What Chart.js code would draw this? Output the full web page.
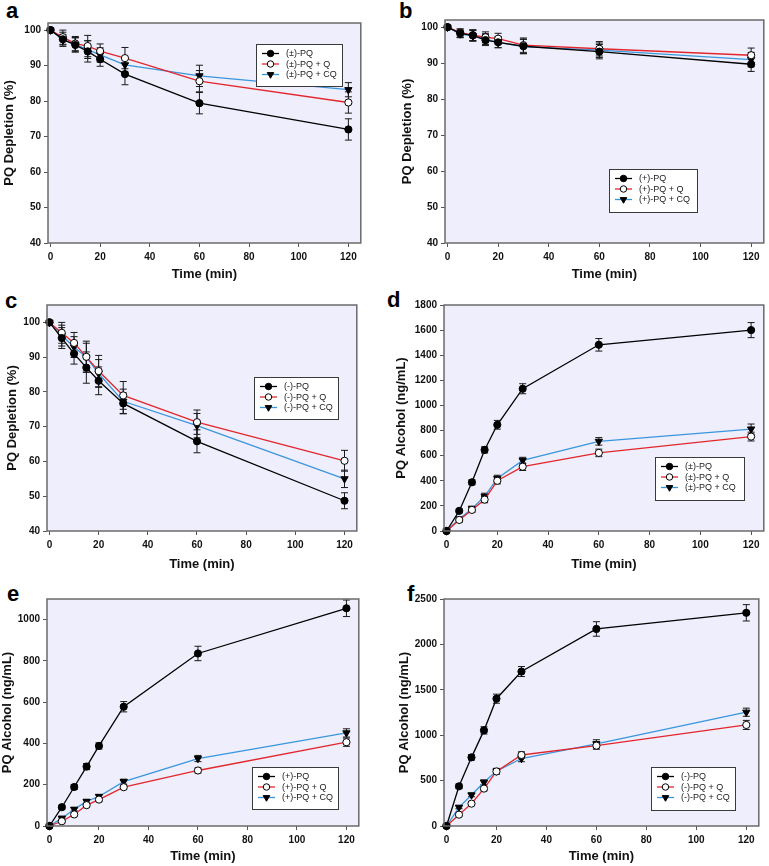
<!DOCTYPE html>
<html>
  <head>
    <title>PQ Depletion and PQ Alcohol</title>
    <style>
      body { margin: 0; background: #fff; width: 769px; height: 866px; position: relative; overflow: hidden; }
      canvas { position: absolute; }
      .tag { position: absolute; font: bold 22px "Liberation Sans", Arial, sans-serif; line-height: 22px; color: #000; }
    </style>
  </head>
  <body>
    <div class="tag" style="left:6px;top:0px">a</div>
    <div class="tag" style="left:399px;top:0px">b</div>
    <div class="tag" style="left:5px;top:290px">c</div>
    <div class="tag" style="left:387px;top:289px">d</div>
    <div class="tag" style="left:7px;top:583px">e</div>
    <div class="tag" style="left:407px;top:583px">f</div>

    <canvas id="chartA"></canvas>
    <canvas id="chartB"></canvas>
    <canvas id="chartC"></canvas>
    <canvas id="chartD"></canvas>
    <canvas id="chartE"></canvas>
    <canvas id="chartF"></canvas>

    <script src="https://cdn.jsdelivr.net/npm/chart.js"></script>
    <script>
      // sampling times (min)
      const times = [0, 5, 10, 15, 20, 30, 60, 120];
      const xTicks = [0, 20, 40, 60, 80, 100, 120];

      const racemicNames = ["(±)-PQ", "(±)-PQ + Q", "(±)-PQ + CQ"];
      const plusNames = ["(+)-PQ", "(+)-PQ + Q", "(+)-PQ + CQ"];
      const minusNames = ["(-)-PQ", "(-)-PQ + Q", "(-)-PQ + CQ"];

      // a: (±)-PQ depletion (%)
      const aPQ = [100, 97.4, 95.8, 94.0, 91.8, 87.6, 79.4, 72.0];
      const aPQErr = [0, 2, 2, 3, 2, 3, 3, 3];
      const aQ = [100, 98.0, 96.2, 95.5, 94.1, 92.1, 85.6, 79.6];
      const aQErr = [0, 2, 2, 3, 2, 3, 3, 3];
      const aCQ = [100, 97.3, 95.9, 94.5, 93.0, 90.2, 87.1, 83.2];
      const aCQErr = [0, 1.5, 2, 2.5, 2, 2, 3, 2];

      // b: (+)-PQ depletion (%)
      const bPQ = [100, 98.3, 97.7, 96.4, 95.8, 94.7, 93.2, 89.7];
      const bPQErr = [0, 1.2, 1.5, 1.5, 1.5, 2, 2, 2];
      const bQ = [100, 98.5, 97.8, 97.2, 96.8, 95.0, 94.0, 92.2];
      const bQErr = [0, 1, 1.5, 1.5, 1.5, 2, 2, 2];
      const bCQ = [100, 98.1, 97.6, 96.7, 95.8, 94.6, 93.6, 91.0];
      const bCQErr = [0, 1, 1.5, 1.5, 1.5, 2, 2, 2];

      // c: (-)-PQ depletion (%)
      const cPQ = [100, 95.5, 91.0, 87.0, 83.2, 76.7, 65.8, 48.7];
      const cPQErr = [0, 3, 3, 4.5, 4, 3, 3.3, 2.3];
      const cQ = [100, 97.0, 94.1, 90.1, 86.0, 79.0, 71.3, 60.2];
      const cQErr = [0, 3, 3, 4.5, 4.5, 4, 3.5, 3];
      const cCQ = [100, 96.2, 92.9, 90.0, 85.3, 77.3, 70.3, 55.0];
      const cCQErr = [0, 3, 3, 4, 4, 3.5, 3.5, 2.5];

      // d: (±)-PQ alcohol (ng/mL)
      const dPQ = [0, 160, 388, 646, 846, 1133, 1483, 1600];
      const dPQErr = [0, 15, 20, 25, 35, 40, 50, 60];
      const dQ = [0, 88, 168, 250, 400, 512, 622, 752];
      const dQErr = [0, 20, 20, 25, 25, 30, 30, 35];
      const dCQ = [0, 95, 178, 276, 419, 562, 714, 812];
      const dCQErr = [0, 15, 20, 25, 25, 25, 30, 40];

      // e: (+)-PQ alcohol (ng/mL)
      const ePQ = [0, 91, 189, 288, 388, 578, 836, 1055];
      const ePQErr = [0, 10, 12, 15, 15, 25, 35, 40];
      const eQ = [0, 23, 56, 101, 128, 188, 269, 406];
      const eQErr = [0, 5, 8, 10, 10, 10, 12, 20];
      const eCQ = [0, 38, 81, 119, 143, 215, 327, 451];
      const eCQErr = [0, 5, 8, 10, 10, 12, 15, 20];

      // f: (-)-PQ alcohol (ng/mL)
      const fPQ = [0, 437, 756, 1053, 1402, 1701, 2170, 2348];
      const fPQErr = [0, 25, 30, 40, 50, 55, 80, 90];
      const fQ = [0, 125, 246, 412, 601, 782, 885, 1113];
      const fQErr = [0, 15, 20, 25, 30, 35, 40, 50];
      const fCQ = [0, 206, 342, 482, 605, 743, 905, 1253];
      const fCQErr = [0, 15, 20, 25, 30, 35, 45, 45];

      const depletionTicks = [40, 50, 60, 70, 80, 90, 100];
      const dTicks = [0, 200, 400, 600, 800, 1000, 1200, 1400, 1600, 1800];
      const eTicks = [0, 200, 400, 600, 800, 1000];
      const fTicks = [0, 500, 1000, 1500, 2000, 2500];

      const FONT = '"Liberation Sans", Arial, sans-serif';
      const seriesStyle = [
        { line: "#000000", fill: "#000000", shape: "circle", rot: 0, r: 3.6 },
        { line: "#e3262c", fill: "#ffffff", shape: "circle", rot: 0, r: 3.6 },
        { line: "#3a96dc", fill: "#000000", shape: "triangle", rot: 180, r: 4.2 },
      ];

      // lavender plot background + frame
      const frame = {
        id: "frame",
        beforeDraw(chart) {
          const { ctx, chartArea: a } = chart;
          ctx.save();
          ctx.fillStyle = "#eeeefc";
          ctx.fillRect(a.left, a.top, a.right - a.left, a.bottom - a.top);
          ctx.restore();
        },
        afterDraw(chart) {
          const { ctx, chartArea: a } = chart;
          ctx.save();
          ctx.strokeStyle = "#6b6b6b";
          ctx.lineWidth = 1.5;
          ctx.strokeRect(a.left, a.top, a.right - a.left, a.bottom - a.top);
          ctx.restore();
        },
      };

      // vertical error bars with caps
      const errorBars = {
        id: "errorBars",
        beforeDatasetsDraw(chart) {
          const { ctx } = chart;
          const xs = chart.scales.x, ys = chart.scales.y;
          ctx.save();
          ctx.strokeStyle = "#1a1a1a";
          ctx.lineWidth = 1;
          chart.data.datasets.forEach((ds) => {
            ds.data.forEach((p, i) => {
              const e = ds.errors[i];
              if (!e) return;
              const x = xs.getPixelForValue(p.x);
              const y1 = ys.getPixelForValue(p.y + e);
              const y2 = ys.getPixelForValue(p.y - e);
              ctx.beginPath();
              ctx.moveTo(x, y1); ctx.lineTo(x, y2);
              ctx.moveTo(x - 3.5, y1); ctx.lineTo(x + 3.5, y1);
              ctx.moveTo(x - 3.5, y2); ctx.lineTo(x + 3.5, y2);
              ctx.stroke();
            });
          });
          ctx.restore();
        },
      };

      // boxed legend inside the plot
      const boxLegend = {
        id: "boxLegend",
        afterDraw(chart, args, opts) {
          const { ctx } = chart;
          const b = opts.box;
          ctx.save();
          ctx.fillStyle = "#ffffff";
          ctx.fillRect(b.x, b.y, b.w, b.h);
          ctx.strokeStyle = "#3a3a3a";
          ctx.lineWidth = 1;
          ctx.strokeRect(b.x + 0.5, b.y + 0.5, b.w, b.h);
          chart.data.datasets.forEach((ds, i) => {
            const s = seriesStyle[i];
            const y = b.y + 9.5 + i * 10.5;
            const x0 = b.x + 6;
            ctx.strokeStyle = s.line;
            ctx.lineWidth = 1.3;
            ctx.beginPath();
            ctx.moveTo(x0, y); ctx.lineTo(x0 + 17, y);
            ctx.stroke();
            ctx.fillStyle = s.fill;
            ctx.strokeStyle = "#000";
            ctx.lineWidth = 1;
            Chart.helpers.drawPoint(ctx, {
              pointStyle: s.shape, rotation: s.rot, radius: s.r * 0.9, borderWidth: 1,
            }, x0 + 8.5, y);
            ctx.fillStyle = "#1a1a1a";
            ctx.font = "9px " + FONT;
            ctx.textBaseline = "middle";
            ctx.textAlign = "left";
            ctx.fillText(ds.label, b.x + 30, y + 0.5);
          });
          ctx.restore();
        },
      };

      function makeDatasets(names, values, errs) {
        return values.map((vals, i) => {
          const s = seriesStyle[i];
          return {
            label: names[i],
            data: times.map((t, k) => ({ x: t, y: vals[k] })),
            errors: errs[i],
            borderColor: s.line,
            borderWidth: 1.3,
            backgroundColor: s.fill,
            pointBackgroundColor: s.fill,
            pointBorderColor: "#000",
            pointBorderWidth: 1,
            pointStyle: s.shape,
            rotation: s.rot,
            pointRadius: s.r,
            pointHoverRadius: s.r,
            tension: 0,
            clip: false,
          };
        });
      }

      function makePanel(id, p) {
        const cv = document.getElementById(id);
        const w = p.areaRight + 4 - p.left;
        const h = p.bottom - p.top;
        cv.width = w; cv.height = h;
        cv.style.left = p.left + "px"; cv.style.top = p.top + "px";
        cv.style.width = w + "px"; cv.style.height = h + "px";
        const yAxisW = p.areaLeft - p.left;
        const xAxisH = p.bottom - p.areaBottom;
        const tickFont = { family: FONT, size: 10, weight: "bold" };
        const titleFont = { family: FONT, size: 13, weight: "bold" };
        return new Chart(cv.getContext("2d"), {
          type: "line",
          data: { datasets: makeDatasets(p.names, p.values, p.errs) },
          options: {
            responsive: false,
            animation: false,
            events: [],
            layout: { padding: { top: p.areaTop - p.top, right: 4, left: 0, bottom: 0 } },
            plugins: {
              legend: { display: false },
              tooltip: { enabled: false },
              boxLegend: { box: { x: p.legend.x - p.left, y: p.legend.y - p.top, w: p.legend.w, h: p.legend.h } },
            },
            scales: {
              x: {
                type: "linear",
                min: -1,
                max: 125,
                afterBuildTicks: (s) => { s.ticks = xTicks.map((v) => ({ value: v })); },
                afterFit: (s) => { s.height = xAxisH; },
                ticks: { font: tickFont, color: "#111", padding: 4, maxRotation: 0, autoSkip: false },
                grid: { drawOnChartArea: false, drawTicks: true, tickLength: 4, color: "#555" },
                border: { display: false },
                title: { display: true, text: "Time (min)", font: titleFont, color: "#111", padding: 0 },
              },
              y: {
                min: p.yMin,
                max: p.yMax,
                afterBuildTicks: (s) => { s.ticks = p.yTicks.map((v) => ({ value: v })); },
                afterFit: (s) => { s.width = yAxisW; },
                ticks: { font: tickFont, color: "#111", padding: 3, autoSkip: false, callback: (v) => String(v) },
                grid: { drawOnChartArea: false, drawTicks: true, tickLength: 4, color: "#555" },
                border: { display: false },
                title: { display: true, text: p.yTitle, font: titleFont, color: "#111", padding: 0 },
              },
            },
          },
          plugins: [frame, errorBars, boxLegend],
        });
      }

      const depTitle = "PQ Depletion (%)";
      const alcTitle = "PQ Alcohol (ng/mL)";

      makePanel("chartA", {
        left: 2, top: 0, bottom: 282, areaLeft: 48, areaRight: 362, areaTop: 23, areaBottom: 243,
        yMin: 40, yMax: 102, yTicks: depletionTicks, yTitle: depTitle, names: racemicNames,
        values: [aPQ, aQ, aCQ], errs: [aPQErr, aQErr, aCQErr],
        legend: { x: 256, y: 44, w: 86, h: 42 },
      });
      makePanel("chartB", {
        left: 400, top: 0, bottom: 282, areaLeft: 445, areaRight: 765, areaTop: 20, areaBottom: 243,
        yMin: 40, yMax: 102, yTicks: depletionTicks, yTitle: depTitle, names: plusNames,
        values: [bPQ, bQ, bCQ], errs: [bPQErr, bQErr, bCQErr],
        legend: { x: 609, y: 169, w: 88, h: 43 },
      });
      makePanel("chartC", {
        left: 5, top: 290, bottom: 572, areaLeft: 47, areaRight: 358, areaTop: 305, areaBottom: 531,
        yMin: 40, yMax: 105, yTicks: depletionTicks, yTitle: depTitle, names: minusNames,
        values: [cPQ, cQ, cCQ], errs: [cPQErr, cQErr, cCQErr],
        legend: { x: 254, y: 377, w: 84, h: 42 },
      });
      makePanel("chartD", {
        left: 394, top: 290, bottom: 572, areaLeft: 444, areaRight: 765, areaTop: 305, areaBottom: 531,
        yMin: 0, yMax: 1800, yTicks: dTicks, yTitle: alcTitle, names: racemicNames,
        values: [dPQ, dQ, dCQ], errs: [dPQErr, dQErr, dCQErr],
        legend: { x: 655, y: 457, w: 89, h: 43 },
      });
      makePanel("chartE", {
        left: 0, top: 580, bottom: 864, areaLeft: 47, areaRight: 360, areaTop: 599, areaBottom: 826,
        yMin: 0, yMax: 1100, yTicks: eTicks, yTitle: alcTitle, names: plusNames,
        values: [ePQ, eQ, eCQ], errs: [ePQErr, eQErr, eCQErr],
        legend: { x: 252, y: 767, w: 86, h: 42 },
      });
      makePanel("chartF", {
        left: 397, top: 580, bottom: 864, areaLeft: 444, areaRight: 760, areaTop: 599, areaBottom: 826,
        yMin: 0, yMax: 2500, yTicks: fTicks, yTitle: alcTitle, names: minusNames,
        values: [fPQ, fQ, fCQ], errs: [fPQErr, fQErr, fCQErr],
        legend: { x: 651, y: 767, w: 84, h: 43 },
      });
    </script>
  </body>
</html>
